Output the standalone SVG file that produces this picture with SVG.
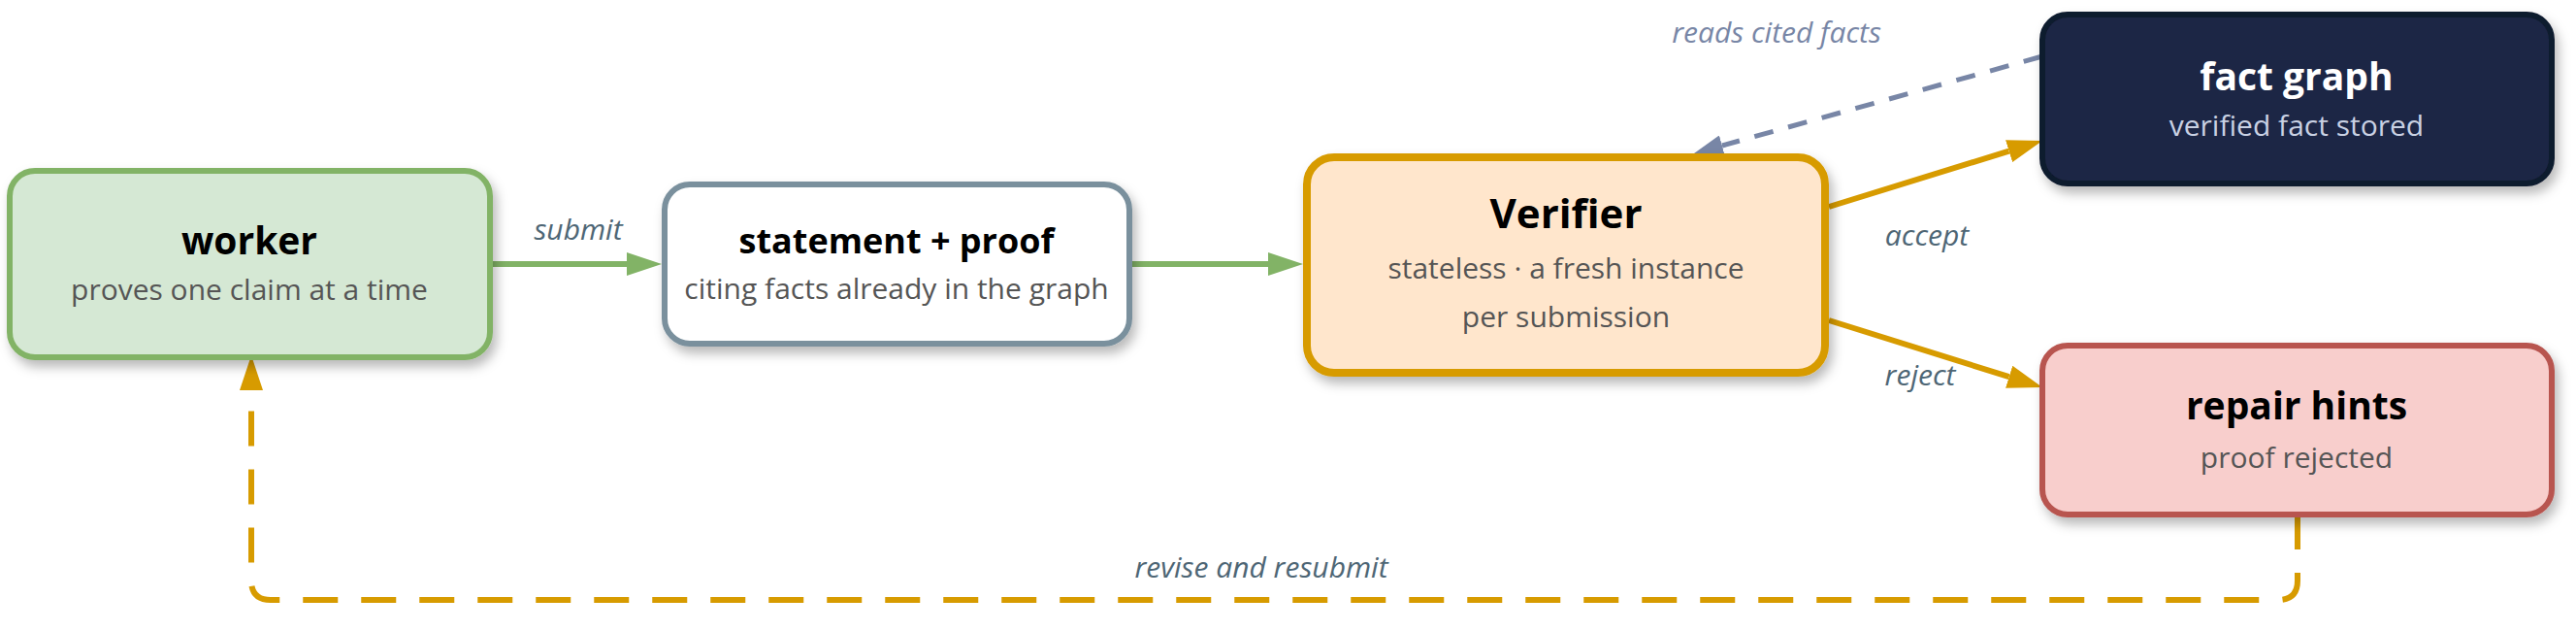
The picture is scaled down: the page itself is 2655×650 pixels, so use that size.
<svg xmlns="http://www.w3.org/2000/svg" width="2655" height="650" viewBox="0 0 2655 650">
<style>
.t{font-family:"Open Sans","Noto Sans","Liberation Sans",sans-serif;font-weight:700;font-size:39px;fill:#000;text-anchor:middle}
.s{font-family:"Open Sans","Noto Sans","Liberation Sans",sans-serif;font-size:30px;fill:#555;text-anchor:middle}
.l{font-family:"Open Sans","Noto Sans","Liberation Sans",sans-serif;font-style:italic;font-size:30px;fill:#4e6675;text-anchor:middle}
.box{filter:url(#sh)}
.e{fill:none;stroke-width:6}
</style>
<defs>
<filter id="sh" x="-10%" y="-20%" width="125%" height="150%">
<feDropShadow dx="4" dy="7" stdDeviation="6" flood-color="#000" flood-opacity="0.28"/>
</filter>
<marker id="mg" markerUnits="userSpaceOnUse" viewBox="0 0 36 24" markerWidth="36" markerHeight="24" refX="0" refY="12" orient="auto"><path d="M0,0 L36,12 L0,24 z" fill="#82b366"/></marker>
<marker id="mo" markerUnits="userSpaceOnUse" viewBox="0 0 36 24" markerWidth="36" markerHeight="24" refX="0" refY="12" orient="auto"><path d="M0,0 L36,12 L0,24 z" fill="#d79b00"/></marker>
<marker id="mb" markerUnits="userSpaceOnUse" viewBox="0 0 30 22" markerWidth="30" markerHeight="22" refX="0" refY="11" orient="auto"><path d="M0,0 L30,11 L0,22 z" fill="#7886a6"/></marker>
</defs>
<rect width="2655" height="650" fill="#fff"/>
<g id="connectors">
<path class="e" d="M505,272 H646" stroke="#82b366" marker-end="url(#mg)"/>
<text class="l" x="596" y="247">submit</text>
<path class="e" d="M1164,272 H1307" stroke="#82b366" marker-end="url(#mg)"/>
<path class="e" d="M1885,213 L2070.6,155.6" stroke="#d79b00" marker-end="url(#mo)"/>
<text class="l" x="1986" y="253">accept</text>
<path class="e" d="M1885,330 L2070.7,388.2" stroke="#d79b00" marker-end="url(#mo)"/>
<text class="l" x="1979" y="397">reject</text>
<path d="M2105,58 L1774.9,150" fill="none" stroke="#7886a6" stroke-width="5" stroke-dasharray="20 16" marker-end="url(#mb)"/>
<text class="l" x="1831" y="44" style="fill:#7886a6">reads cited facts</text>
<path d="M2368,530 V598 Q2368,618 2348,618 H279 Q259,618 259,598 V402" fill="none" stroke="#d79b00" stroke-width="6" stroke-dasharray="36 24" marker-end="url(#mo)"/>
<text class="l" x="1300" y="595">revise and resubmit</text>
</g>
<g id="worker">
<rect class="box" x="10" y="176" width="495" height="192" rx="26" fill="#d5e8d4" stroke="#82b366" stroke-width="6"/>
<text class="t" x="257" y="262">worker</text>
<text class="s" x="257" y="309">proves one claim at a time</text>
</g>
<g id="statement">
<rect class="box" x="685" y="190" width="479" height="164" rx="26" fill="#fff" stroke="#7a909d" stroke-width="6"/>
<text class="t" x="924" y="261" style="font-size:36px">statement + proof</text>
<text class="s" x="924" y="308">citing facts already in the graph</text>
</g>
<g id="verifier">
<rect class="box" x="1347" y="162" width="534" height="222" rx="28" fill="#ffe6cc" stroke="#d79b00" stroke-width="8"/>
<text class="t" x="1614" y="235" style="font-size:42px">Verifier</text>
<text class="s" x="1614" y="287">stateless · a fresh instance</text>
<text class="s" x="1614" y="337">per submission</text>
</g>
<g id="factgraph">
<rect class="box" x="2105" y="15" width="525" height="174" rx="26" fill="#1c2744" stroke="#111a2e" stroke-width="6"/>
<text class="t" x="2367" y="93" style="fill:#fff">fact graph</text>
<text class="s" x="2367" y="140" style="fill:#c9d1e3">verified fact stored</text>
</g>
<g id="repair">
<rect class="box" x="2105" y="356" width="525" height="174" rx="26" fill="#f8cecc" stroke="#b85450" stroke-width="6"/>
<text class="t" x="2367" y="432">repair hints</text>
<text class="s" x="2367" y="482">proof rejected</text>
</g>
</svg>
